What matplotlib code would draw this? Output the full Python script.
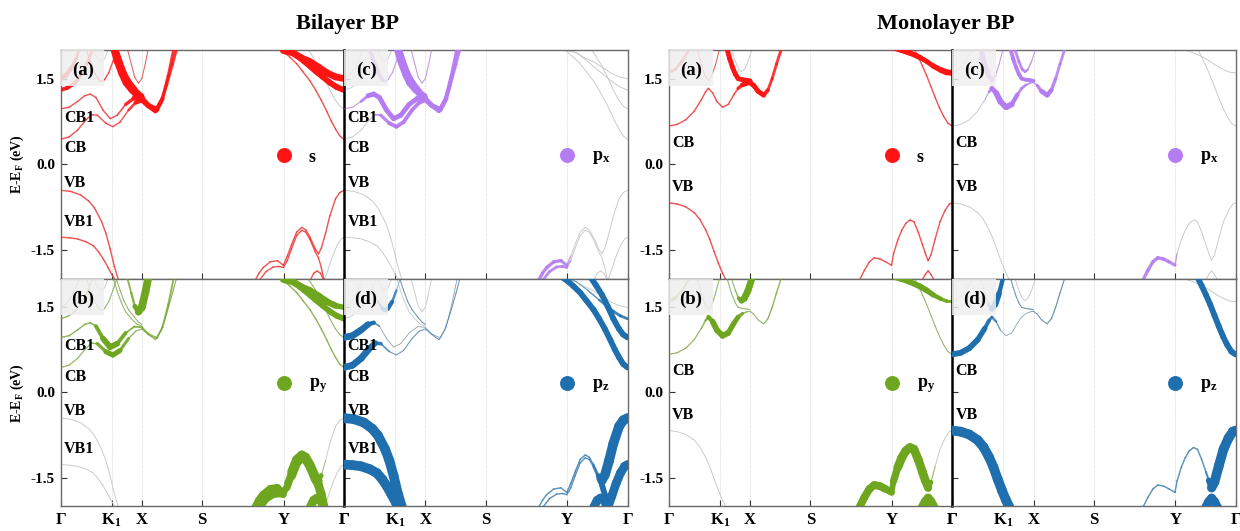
import numpy as np
import matplotlib
matplotlib.use("Agg")
import matplotlib.pyplot as plt
from matplotlib.collections import LineCollection
from matplotlib.colors import to_rgba

plt.rcParams['font.family'] = ['Liberation Serif', 'DejaVu Serif']
plt.rcParams['font.weight'] = 'bold'
plt.rcParams['mathtext.fontset'] = 'custom'
plt.rcParams['mathtext.rm'] = 'Liberation Serif:bold'
plt.rcParams['mathtext.it'] = 'Liberation Serif:bold'
plt.rcParams['mathtext.bf'] = 'Liberation Serif:bold'

# k-path
K_TICKS = [0.0, 0.18, 0.287, 0.5, 0.787, 1.0]
K_LABELS = ['Γ', 'K$_1$', 'X', 'S', 'Y', 'Γ']
E_TICKS = [-1.5, 0.0, 1.5]
E_TICK_LABELS = ['-1.5', '0.0', '1.5']

ORB_LABELS = ['s', 'p$_x$', 'p$_y$', 'p$_z$']
ORB_COLORS = ['#ff1414', '#b57cf2', '#6ea71f', '#1f6fae']
ORB_TAGS = ['(a)', '(c)', '(b)', '(d)']

BI_STATES = ['CB1', 'CB', 'VB', 'VB1']
BI_STATE_E = [0.82, 0.28, -0.33, -1.0]
MO_STATES = ['CB', 'VB']
MO_STATE_E = [0.37, -0.40]

# ---------------- bilayer bands: k, E, w_s, w_px, w_py, w_pz ----------------
BI_VB_L = [(0.000, -0.45, .15, 0, 0, 1.0), (0.035, -0.47, .15, 0, 0, 1.0),
           (0.070, -0.53, .15, 0, 0, 1.0), (0.100, -0.64, .15, 0, 0, 1.0),
           (0.120, -0.76, .15, 0, 0, 1.0), (0.145, -1.00, .15, 0, 0, 1.0),
           (0.160, -1.20, .15, 0, 0, 1.0), (0.175, -1.47, .15, 0, 0, 1.0),
           (0.190, -1.78, .15, 0, 0, 1.0), (0.205, -2.03, .15, 0, 0, 1.0)]
BI_VB1_L = [(0.000, -1.27, .15, 0, 0, 1.0), (0.030, -1.28, .15, 0, 0, 1.0),
            (0.060, -1.30, .15, 0, 0, 1.0), (0.090, -1.35, .15, 0, 0, 1.0),
            (0.116, -1.42, .15, 0, 0, 1.0), (0.135, -1.53, .15, 0, 0, 1.0),
            (0.151, -1.65, .15, 0, 0, 1.0), (0.168, -1.80, .15, 0, 0, 1.0),
            (0.183, -1.94, .15, 0, 0, 1.0), (0.195, -2.03, .15, 0, 0, 1.0)]
BI_CB_L = [(0.000, 0.44, .15, 0, .12, .7), (0.030, 0.48, .15, 0, .12, .7),
           (0.060, 0.60, .15, 0, .12, .7), (0.090, 0.78, .15, 0, .12, .7),
           (0.110, 0.87, .15, .1, .12, .5), (0.130, 0.86, .15, .3, .2, .25),
           (0.160, 0.72, .15, .4, .5, .1), (0.185, 0.66, .15, .4, .55, .1),
           (0.210, 0.74, .15, .4, .5, .1), (0.240, 0.95, .15, .4, .15, .1),
           (0.265, 1.08, .4, .4, .12, .1), (0.287, 1.12, .45, .4, .12, .1),
           (0.310, 1.02, .45, .4, .12, .1), (0.335, 0.93, .45, .4, .12, .1),
           (0.355, 1.10, .35, .4, .12, .1), (0.375, 1.40, .3, .35, .12, .1),
           (0.395, 1.75, .3, .3, .12, .1), (0.410, 2.03, .3, .3, .12, .1)]
BI_CB1_L = [(0.000, 0.97, .15, .1, .15, .7), (0.030, 1.00, .15, .1, .15, .7),
            (0.060, 1.10, .15, .1, .15, .7), (0.085, 1.20, .15, .5, .15, .6),
            (0.105, 1.23, .15, .5, .15, .3), (0.125, 1.17, .15, .5, .2, .05),
            (0.150, 0.95, .15, .5, .6, .05), (0.175, 0.80, .15, .5, .6, .05),
            (0.200, 0.86, .15, .5, .6, .05), (0.230, 1.05, .2, .5, .2, .05),
            (0.260, 1.16, .5, .5, .2, .05), (0.287, 1.15, .55, .5, .2, .05),
            (0.310, 1.03, .55, .5, .2, .05), (0.340, 0.96, .5, .5, .2, .05),
            (0.360, 1.15, .35, .45, .2, .05), (0.380, 1.55, .3, .4, .2, .05),
            (0.400, 2.03, .3, .4, .2, .05)]
BI_U1_L = [(0.000, 1.30, .4, 0, .15, 0), (0.025, 1.34, .4, 0, .15, 0),
           (0.050, 1.42, .4, 0, .15, 0), (0.075, 1.58, .35, 0, .15, 0),
           (0.095, 1.78, .3, 0, .15, 0), (0.115, 2.03, .3, 0, .15, 0)]
BI_U2_L = [(0.000, 1.50, .5, 0, .1, 0), (0.020, 1.56, .5, 0, .1, 0),
           (0.040, 1.70, .4, 0, .1, 0), (0.055, 1.85, .3, 0, .1, 0),
           (0.068, 2.03, .3, 0, .1, 0)]
BI_V1 = [(0.090, 2.03, .15, .4, .1, 0), (0.105, 1.80, .15, .45, .1, 0),
         (0.120, 1.60, .15, .45, .1, .1), (0.135, 1.48, .15, .4, .1, .4),
         (0.145, 1.45, .15, .2, .1, .45), (0.155, 1.48, .15, .1, .1, .45),
         (0.170, 1.60, .15, .1, .1, .4), (0.185, 1.80, .15, .1, .1, .1),
         (0.200, 2.03, .15, .1, .1, 0)]
BI_V2 = [(0.115, 2.03, 0, 0, 0, 0), (0.125, 1.90, 0, 0, 0, 0),
         (0.140, 1.80, 0, 0, 0, 0), (0.155, 1.84, 0, 0, 0, 0),
         (0.170, 2.03, 0, 0, 0, 0)]
BI_U3 = [(0.185, 2.03, .6, .6, .1, 0), (0.200, 1.78, .6, .6, .1, 0),
         (0.215, 1.58, .6, .6, .1, 0), (0.230, 1.42, .6, .6, .1, 0),
         (0.250, 1.30, .6, .55, .1, 0), (0.270, 1.20, .6, .5, .1, 0),
         (0.287, 1.17, .6, .5, .1, 0)]
BI_U4 = [(0.195, 2.03, .5, .5, .1, .1), (0.210, 1.80, .5, .5, .1, .1),
         (0.225, 1.60, .5, .5, .1, .1), (0.240, 1.46, .5, .5, .1, .1),
         (0.260, 1.33, .5, .45, .1, .1), (0.275, 1.24, .5, .45, .1, .1),
         (0.287, 1.20, .5, .45, .1, .1)]
BI_U5 = [(0.235, 2.03, .1, .1, .2, 0), (0.250, 1.75, .1, .1, .2, 0),
         (0.262, 1.52, .1, .1, .3, 0), (0.275, 1.42, .1, .1, .7, 0),
         (0.287, 1.50, .1, .1, .8, 0), (0.300, 1.78, .1, .1, .8, 0),
         (0.310, 2.03, .1, .1, .8, 0)]
BI_VB_R = [(0.686, -2.03, .15, .35, .8, .15), (0.700, -1.90, .15, .35, .8, .15),
           (0.715, -1.80, .15, .35, .8, .15), (0.740, -1.70, .15, .35, .8, .15),
           (0.765, -1.68, .15, .35, .8, .15), (0.786, -1.76, .15, .3, .6, .15),
           (0.800, -1.60, .15, 0, .4, .15), (0.815, -1.40, .15, 0, .9, .15),
           (0.833, -1.18, .15, 0, .9, .15), (0.851, -1.10, .15, 0, .9, .15),
           (0.865, -1.14, .15, 0, .9, .15), (0.880, -1.27, .15, 0, .9, .15),
           (0.898, -1.47, .15, 0, .9, .3), (0.910, -1.56, .15, 0, .8, .8),
           (0.920, -1.46, .15, 0, .15, 1.0), (0.935, -1.20, .15, 0, 0, 1.0),
           (0.950, -0.90, .15, 0, 0, 1.0), (0.970, -0.60, .15, 0, 0, 1.0),
           (0.985, -0.49, .15, 0, 0, 1.0), (1.000, -0.45, .15, 0, 0, 1.0)]
BI_VB2_R = [(0.700, -2.03, .15, .3, .8, .15), (0.725, -1.87, .15, .3, .8, .15),
            (0.750, -1.79, .15, .3, .8, .15), (0.770, -1.78, .15, .3, .8, .15),
            (0.786, -1.80, .15, .3, .6, .15), (0.800, -1.68, .15, 0, .4, .15),
            (0.815, -1.47, .15, 0, .9, .15), (0.833, -1.24, .15, 0, .9, .15),
            (0.851, -1.15, .15, 0, .9, .15), (0.865, -1.18, .15, 0, .9, .15),
            (0.880, -1.31, .15, 0, .9, .15), (0.898, -1.52, .15, 0, .9, .3),
            (0.910, -1.63, .15, 0, .9, .6), (0.920, -1.80, .15, 0, .9, .6),
            (0.930, -2.03, .15, 0, .9, .6)]
BI_VBX = [(0.880, -2.03, .15, 0, .9, .9), (0.893, -1.90, .15, 0, .9, .9),
          (0.905, -1.86, .15, 0, .9, .9), (0.917, -1.90, .15, 0, .9, .9),
          (0.930, -2.03, .15, 0, .9, .9)]
BI_VB1_R = [(0.930, -2.03, 0, 0, 0, .9), (0.945, -1.82, 0, 0, 0, .9),
            (0.960, -1.60, 0, 0, 0, .9), (0.975, -1.42, 0, 0, 0, .9),
            (0.990, -1.30, 0, 0, 0, .9), (1.000, -1.27, 0, 0, 0, .9)]
BI_CB_R = [(0.770, 2.03, .15, 0, .15, .6), (0.792, 1.95, .15, 0, .15, .6),
           (0.810, 1.87, .15, 0, .15, .6), (0.833, 1.76, .15, 0, .15, .6),
           (0.855, 1.62, .15, 0, .15, .6), (0.880, 1.46, .15, 0, .15, .6),
           (0.900, 1.30, .15, 0, .15, .6), (0.920, 1.12, .15, 0, .15, .6),
           (0.940, 0.92, .15, 0, .15, .6), (0.955, 0.76, .15, 0, .15, .6),
           (0.970, 0.62, .15, 0, .15, .6), (0.985, 0.50, .15, 0, .15, .6),
           (1.000, 0.44, .15, 0, .15, .6)]
BI_CB1_R = [(0.870, 2.03, 0, 0, .1, .6), (0.890, 1.88, 0, 0, .1, .6),
            (0.910, 1.72, 0, 0, .1, .6), (0.930, 1.52, 0, 0, .1, .6),
            (0.950, 1.30, 0, 0, .1, .6), (0.970, 1.12, 0, 0, .1, .6),
            (0.985, 1.02, 0, 0, .1, .6), (1.000, 0.97, 0, 0, .1, .6)]
BI_U1_R = [(0.786, 2.03, .6, 0, .6, .1), (0.820, 1.95, .6, 0, .6, .1),
           (0.860, 1.80, .6, 0, .6, .1), (0.900, 1.63, .6, 0, .6, .2),
           (0.925, 1.53, .6, 0, .6, .3), (0.950, 1.43, .6, 0, .6, .3),
           (0.975, 1.35, .6, 0, .6, .3), (1.000, 1.30, .6, 0, .6, .3)]
BI_U2_R = [(0.786, 1.99, .7, 0, .7, 0), (0.820, 1.95, .7, 0, .7, 0),
           (0.850, 1.86, .7, 0, .7, 0), (0.878, 1.80, .7, 0, .7, 0),
           (0.910, 1.70, .7, 0, .7, 0), (0.940, 1.60, .7, 0, .7, 0),
           (0.970, 1.53, .7, 0, .6, 0), (1.000, 1.50, .7, 0, .5, 0)]

# ---------------- monolayer bands: k, E, w_s, w_px, w_py, w_pz ----------------
MO_VB_L = [(0.000, -0.67, .15, 0, 0, 1.0), (0.030, -0.69, .15, 0, 0, 1.0),
           (0.060, -0.74, .15, 0, 0, 1.0), (0.090, -0.84, .15, 0, 0, 1.0),
           (0.110, -0.96, .15, 0, 0, 1.0), (0.130, -1.14, .15, 0, 0, 1.0),
           (0.145, -1.31, .15, 0, 0, 1.0), (0.160, -1.52, .15, 0, 0, 1.0),
           (0.175, -1.72, .15, 0, 0, 1.0), (0.190, -1.90, .15, 0, 0, 1.0),
           (0.203, -2.03, .15, 0, 0, 1.0)]
MO_VB_R = [(0.672, -2.03, .15, .35, .8, .15), (0.690, -1.85, .15, .35, .8, .15),
           (0.708, -1.70, .15, .35, .8, .15), (0.725, -1.63, .15, .35, .8, .15),
           (0.745, -1.65, .15, .35, .8, .15), (0.765, -1.70, .15, .35, .8, .15),
           (0.786, -1.76, .15, .3, .6, .15), (0.793, -1.56, .15, 0, .6, .15),
           (0.808, -1.32, .15, 0, .9, .15), (0.822, -1.15, .15, 0, .9, .15),
           (0.836, -1.03, .15, 0, .9, .15), (0.851, -0.97, .15, 0, .9, .15),
           (0.865, -1.00, .15, 0, .9, .15), (0.880, -1.18, .15, 0, .9, .15),
           (0.895, -1.40, .15, 0, .9, .15), (0.905, -1.55, .15, 0, .9, .3),
           (0.915, -1.68, .15, 0, .8, .9), (0.925, -1.58, .15, 0, .2, 1.0),
           (0.940, -1.30, .15, 0, 0, 1.0), (0.957, -1.00, .15, 0, 0, 1.0),
           (0.975, -0.80, .15, 0, 0, 1.0), (0.990, -0.69, .15, 0, 0, 1.0),
           (1.000, -0.67, .15, 0, 0, 1.0)]
MO_VBX = [(0.893, -2.03, .15, 0, .9, .9), (0.905, -1.92, .15, 0, .9, .9),
          (0.915, -1.86, .15, 0, .9, .9), (0.925, -1.92, .15, 0, .9, .9),
          (0.937, -2.03, .15, 0, .9, .9)]
MO_CB_L = [(0.000, 0.67, .15, 0, .12, .6), (0.030, 0.70, .15, 0, .12, .6),
           (0.060, 0.78, .15, 0, .12, .6), (0.090, 0.93, .15, 0, .12, .6),
           (0.115, 1.13, .15, 0, .12, .5), (0.130, 1.27, .15, .2, .2, .3),
           (0.140, 1.33, .15, .4, .3, .3), (0.155, 1.25, .15, .6, .6, .2),
           (0.170, 1.10, .15, .6, .6, .05), (0.190, 1.00, .15, .6, .6, .05),
           (0.210, 1.05, .15, .6, .6, .05), (0.230, 1.22, .15, .3, .5, .05),
           (0.245, 1.33, .2, .3, .5, .05), (0.260, 1.39, .5, .3, .2, .05),
           (0.275, 1.42, .5, .1, .1, .05), (0.287, 1.43, .5, .1, .1, .1),
           (0.300, 1.38, .5, .2, .1, .1), (0.315, 1.28, .5, .5, .1, .1),
           (0.335, 1.21, .5, .5, .1, .1), (0.350, 1.30, .3, .4, .15, .12),
           (0.365, 1.50, .3, .3, .15, .12), (0.380, 1.75, .3, .3, .15, .12),
           (0.398, 2.03, .3, .3, .15, .12)]
MO_V1 = [(0.100, 2.03, .1, .5, .1, 0), (0.115, 1.74, .1, .5, .1, 0),
         (0.128, 1.55, .1, .5, .1, .1), (0.140, 1.47, .1, .4, .1, .5),
         (0.152, 1.55, .1, .1, .1, .6), (0.165, 1.74, .1, .1, .1, .6),
         (0.180, 2.03, .1, .1, .1, .3)]
MO_U3_L = [(0.000, 1.60, .3, 0, .3, 0), (0.025, 1.67, .3, 0, .3, 0),
           (0.050, 1.82, .25, 0, .2, 0), (0.075, 2.03, .25, 0, .2, 0)]
MO_U1 = [(0.205, 2.03, .5, .4, .1, .1), (0.215, 1.85, .5, .4, .1, .1),
         (0.225, 1.70, .5, .4, .1, .1), (0.235, 1.58, .5, .4, .1, .1),
         (0.245, 1.50, .5, .4, .1, .1), (0.260, 1.48, .5, .4, .1, .1),
         (0.275, 1.47, .5, .4, .1, .1), (0.287, 1.46, .5, .4, .1, .1)]
MO_V2 = [(0.220, 2.03, 0, .3, .1, 0), (0.235, 1.80, 0, .3, .1, 0),
         (0.247, 1.66, 0, .3, .2, 0), (0.257, 1.62, 0, .3, .6, 0),
         (0.267, 1.66, 0, .2, .7, 0), (0.280, 1.80, 0, .1, .7, 0),
         (0.295, 2.03, 0, .1, .7, 0)]
MO_CB_R = [(0.865, 2.03, .15, 0, .1, .6), (0.880, 1.88, .15, 0, .1, .6),
           (0.895, 1.72, .15, 0, .1, .6), (0.910, 1.55, .15, 0, .1, .6),
           (0.925, 1.36, .15, 0, .1, .6), (0.940, 1.17, .15, 0, .1, .6),
           (0.955, 0.99, .15, 0, .1, .6), (0.970, 0.84, .15, 0, .1, .6),
           (0.985, 0.72, .15, 0, .1, .6), (1.000, 0.67, .15, 0, .1, .6)]
MO_U3_R = [(0.800, 2.03, .6, 0, .6, 0), (0.821, 2.00, .6, 0, .6, 0),
           (0.850, 1.95, .6, 0, .6, 0), (0.886, 1.87, .5, 0, .6, 0),
           (0.910, 1.80, .5, 0, .6, 0), (0.933, 1.72, .5, 0, .5, 0),
           (0.960, 1.65, .6, 0, .4, 0), (0.980, 1.61, .6, 0, .35, 0),
           (1.000, 1.60, .6, 0, .3, 0)]

BI_BANDS = [BI_VB_L, BI_VB1_L, BI_CB_L, BI_CB1_L, BI_U1_L, BI_U2_L, BI_V1, BI_V2,
            BI_U3, BI_U4, BI_U5, BI_VB_R, BI_VB2_R, BI_VBX, BI_VB1_R, BI_CB_R,
            BI_CB1_R, BI_U1_R, BI_U2_R]
MO_BANDS = [MO_VB_L, MO_VB_R, MO_VBX, MO_CB_L, MO_V1, MO_U3_L, MO_U1, MO_V2,
            MO_CB_R, MO_U3_R]

GREY = '#c8c8c8'
FAT = 7.0  # linewidth (pt) for weight 1


def draw_panel(ax, bands, orb):
    color = ORB_COLORS[orb]
    for band in bands:
        arr = np.asarray(band, dtype=float)
        k, e, w = arr[:, 0], arr[:, 1], arr[:, 2 + orb]
        ax.plot(k, e, color=GREY, lw=0.65, zorder=2, solid_capstyle='round')
        segs, lws, cols = [], [], []
        for i in range(len(k) - 1):
            ww = 0.5 * (w[i] + w[i + 1])
            if ww <= 0:
                continue
            segs.append([(k[i], e[i]), (k[i + 1], e[i + 1])])
            lws.append(ww * FAT)
            cols.append(to_rgba(color, 0.45 + 0.55 * min(1.0, ww / 0.45)))
        if segs:
            ax.add_collection(LineCollection(segs, linewidths=lws, colors=cols,
                                             capstyle='round', joinstyle='round',
                                             zorder=3))


def style_axes(ax, row, col, states, state_e):
    ax.set_xlim(0, 1)
    ax.set_ylim(-2, 2)
    for kx in K_TICKS[1:-1]:
        ax.axvline(kx, color='#d4d4d4', lw=0.6, ls=(0, (1.5, 1.5)), zorder=1)
    ax.set_xticks(K_TICKS)
    ax.set_yticks(E_TICKS)
    ax.set_xticklabels(K_LABELS, fontsize=12)
    ax.set_yticklabels(E_TICK_LABELS, fontsize=11)
    ax.tick_params(direction='in', length=4, width=0.8, colors='#333333',
                   labelcolor='black', pad=4,
                   labelbottom=(row == 1), labelleft=(col == 0))
    for sp in ax.spines.values():
        sp.set_color('#6a6a6a')
        sp.set_linewidth(1.0)
    if col == 0:
        ax.spines['right'].set_visible(False)
    else:
        ax.spines['left'].set_color('black')
        ax.spines['left'].set_linewidth(1.8)
    for name, ev in zip(states, state_e):
        ax.text(0.012, ev, name, fontsize=11.5, ha='left', va='center', zorder=6)


fig = plt.figure(figsize=(12.4, 5.31), dpi=100)

GROUP_X = [60.5 / 1240, 668.7 / 1240]
PANEL_W = 283.5 / 1240
ROW_Y = [(0.4746, 0.4313), (0.0471, 0.4275)]
# orbital index for (row, col)
LAYOUT = [[0, 1], [2, 3]]

groups = [(BI_BANDS, BI_STATES, BI_STATE_E), (MO_BANDS, MO_STATES, MO_STATE_E)]
for g, (bands, states, state_e) in enumerate(groups):
    for row in range(2):
        for col in range(2):
            orb = LAYOUT[row][col]
            y0, h = ROW_Y[row]
            ax = fig.add_axes([GROUP_X[g] + col * PANEL_W, y0, PANEL_W, h])
            draw_panel(ax, bands, orb)
            style_axes(ax, row, col, states, state_e)
            ax.add_patch(plt.Rectangle((0, 0.843), 0.155, 0.157,
                                       transform=ax.transAxes, facecolor='#efefef',
                                       edgecolor='none', alpha=0.85, zorder=4))
            ax.text(0.078, 0.91, ORB_TAGS[orb], transform=ax.transAxes,
                    fontsize=13.5, ha='center', va='center', zorder=5)
            ax.scatter([K_TICKS[4]], [0.17], s=95, color=ORB_COLORS[orb],
                       zorder=6, clip_on=False)
            ax.text(0.875, 0.12, ORB_LABELS[orb], fontsize=13, ha='left',
                    va='center', zorder=6)

fig.text(17 / 1240, 1 - 164 / 531, 'E-E$_F$ (eV)', rotation=90, fontsize=10,
         ha='center', va='center')
fig.text(17 / 1240, 1 - 393 / 531, 'E-E$_F$ (eV)', rotation=90, fontsize=10,
         ha='center', va='center')
fig.text(347 / 1240, 1 - 24 / 531, 'Bilayer BP', fontsize=16, ha='center', va='center')
fig.text(946 / 1240, 1 - 24 / 531, 'Monolayer BP', fontsize=16, ha='center', va='center')

fig.savefig('out.png', dpi=100)
